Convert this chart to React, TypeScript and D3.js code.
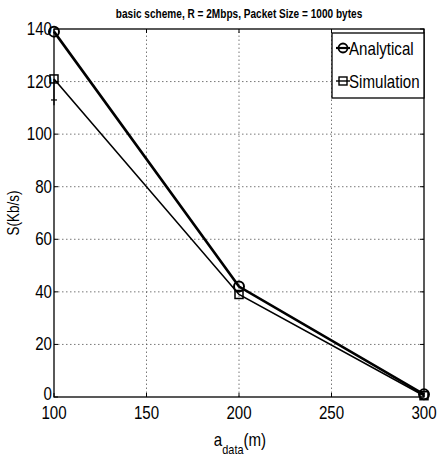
import React from "react";
import * as d3 from "d3";

const xValues = [100, 200, 300];
const analytical = [139, 42, 1];
const simulation = [121, 39, 0.5];
const xTicks = [100, 150, 200, 250, 300];
const yTicks = [0, 20, 40, 60, 80, 100, 120, 140];
const title = "basic scheme, R = 2Mbps, Packet Size = 1000 bytes";
const seriesNames = ["Analytical", "Simulation"];

const W = 440, H = 465;
const m = { left: 54, right: 16, top: 29, bottom: 68 };
const FONT = "'Liberation Sans', Arial, sans-serif";
const SX = 0.84;

function T(props: { x: number; y: number; anchor?: string; size: number; weight?: string; rotate?: number; children: React.ReactNode }) {
  const { x, y, anchor = "start", size, weight = "normal", rotate = 0, children } = props;
  return (
    <g transform={`translate(${x},${y}) rotate(${rotate}) scale(${SX},1)`}>
      <text x={0} y={0} textAnchor={anchor as any} fontSize={size} fontWeight={weight}>{children}</text>
    </g>
  );
}

export default function App() {
  const x = d3.scaleLinear().domain([100, 300]).range([m.left, W - m.right]);
  const y = d3.scaleLinear().domain([0, 140]).range([H - m.bottom, m.top]);
  const line = d3.line<number>().x((_, i) => x(xValues[i])).y((d) => y(d));
  const x0 = m.left, x1 = W - m.right, y0 = H - m.bottom, y1 = m.top;
  return (
    <svg width={W} height={H} style={{ position: "absolute", left: 0, top: 0 }} fontFamily={FONT}>
      <rect width={W} height={H} fill="#fff" />
      {xTicks.slice(1, -1).map((t) => (
        <line key={"gx" + t} x1={x(t)} x2={x(t)} y1={y0} y2={y1} stroke="#555" strokeWidth={0.8} strokeDasharray="1.5,2.5" />
      ))}
      {yTicks.slice(1, -1).map((t) => (
        <line key={"gy" + t} x1={x0} x2={x1} y1={y(t)} y2={y(t)} stroke="#555" strokeWidth={0.8} strokeDasharray="1.5,2.5" />
      ))}
      <rect x={x0} y={y1} width={x1 - x0} height={y0 - y1} fill="none" stroke="#000" strokeWidth={1.3} />
      {xTicks.map((t) => (
        <g key={"tx" + t}>
          <line x1={x(t)} x2={x(t)} y1={y0} y2={y0 - 4} stroke="#000" />
          <line x1={x(t)} x2={x(t)} y1={y1} y2={y1 + 4} stroke="#000" />
          <T x={x(t)} y={y0 + 22} anchor="middle" size={18}>{t}</T>
        </g>
      ))}
      {yTicks.map((t) => (
        <g key={"ty" + t}>
          <line x1={x0} x2={x0 + 4} y1={y(t)} y2={y(t)} stroke="#000" />
          <line x1={x1} x2={x1 - 4} y1={y(t)} y2={y(t)} stroke="#000" />
          <T x={x0 - 2} y={y(t) + (t === 0 ? 3 : 6)} anchor="end" size={18}>{t}</T>
        </g>
      ))}
      <path d={line(simulation) || ""} fill="none" stroke="#000" strokeWidth={1.6} />
      <path d={line(analytical) || ""} fill="none" stroke="#000" strokeWidth={2.6} />
      {analytical.map((v, i) => (
        <circle key={"a" + i} cx={x(xValues[i])} cy={y(v)} r={5} fill="none" stroke="#000" strokeWidth={2} />
      ))}
      {simulation.map((v, i) => (
        <rect key={"s" + i} x={x(xValues[i]) - 4} y={y(v) - 4} width={8} height={8} fill="none" stroke="#000" strokeWidth={1.5} />
      ))}
      <line x1={x(100)} x2={x(100)} y1={y(121)} y2={y(111)} stroke="#000" strokeWidth={1.2} />
      <line x1={x(100) - 3} x2={x(100) + 3} y1={y(113)} y2={y(113)} stroke="#000" strokeWidth={1.2} />
      <T x={(x0 + x1) / 2} y={18} anchor="middle" size={12} weight="bold">{title}</T>
      <g>
        <rect x={332} y={33} width={x1 - 332} height={65} fill="#fff" stroke="#000" strokeWidth={1.3} />
        <line x1={336} x2={350} y1={48} y2={48} stroke="#000" strokeWidth={2.2} />
        <circle cx={343} cy={48} r={4.5} fill="none" stroke="#000" strokeWidth={1.8} />
        <T x={349} y={55} size={18}>{seriesNames[0]}</T>
        <line x1={336} x2={350} y1={81} y2={81} stroke="#000" strokeWidth={1.4} />
        <rect x={339} y={77} width={8} height={8} fill="none" stroke="#000" strokeWidth={1.4} />
        <T x={349} y={88} size={18}>{seriesNames[1]}</T>
      </g>
      <T x={19} y={(y0 + y1) / 2} anchor="middle" size={16} rotate={-90}>S(Kb/s)</T>
      <g transform={`translate(240,446) scale(${SX},1)`}>
        <text x={0} y={0} textAnchor="middle" fontSize={18}>
          a<tspan fontSize={13} dy={8}>data</tspan><tspan fontSize={18} dy={-8}>(m)</tspan>
        </text>
      </g>
    </svg>
  );
}
